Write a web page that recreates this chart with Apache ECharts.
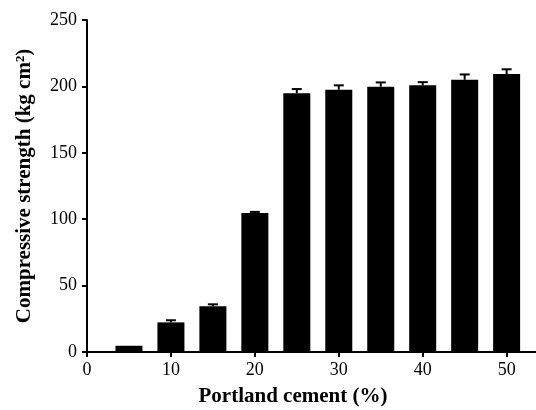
<!DOCTYPE html>
<html>
<head>
<meta charset="utf-8">
<script src="https://cdn.jsdelivr.net/npm/echarts@6/dist/echarts.min.js"></script>
<style>
  html, body { margin: 0; padding: 0; background: #fff; }
  #chart { width: 536px; height: 410px; }
</style>
</head>
<body>
<div id="chart"></div>
<script>
  // Portland cement content (%) and compressive strength (kg cm-2)
  const cement = [5, 10, 15, 20, 25, 30, 35, 40, 45, 50];
  const strength = [4.7, 22.3, 34.4, 104.7, 194.8, 197.5, 199.8, 200.8, 205, 209.3];
  const errors = [0, 1.6, 1.5, 0.8, 3.2, 3.3, 3.2, 2.4, 4, 3.6];

  const font = 'Liberation Serif, Times New Roman, serif';

  const barData = cement.map((c, i) => [c, strength[i]]);
  const errData = cement.map((c, i) => [c, strength[i], strength[i] + errors[i]]);

  const chart = echarts.init(document.getElementById('chart'), null, { renderer: 'canvas' });

  chart.setOption({
    animation: false,
    backgroundColor: '#fff',
    grid: { left: 87, top: 20, bottom: 58, right: 0, containLabel: false, outerBoundsMode: 'none' },
    xAxis: {
      type: 'value',
      min: 0,
      max: 53.5,
      interval: 10,
      name: 'Portland cement (%)',
      nameLocation: 'middle',
      nameGap: 34,
      nameTextStyle: { fontFamily: font, fontWeight: 'bold', fontSize: 21, color: '#000', padding: [0, 37, 0, 0] },
      axisLine: { lineStyle: { color: '#000', width: 2 } },
      axisTick: { length: 5, lineStyle: { color: '#000', width: 2 } },
      axisLabel: { fontFamily: font, fontSize: 18, color: '#000', margin: 9, showMaxLabel: false },
      splitLine: { show: false }
    },
    yAxis: {
      type: 'value',
      min: 0,
      max: 250,
      interval: 50,
      name: 'Compressive strength (kg cm²)',
      nameLocation: 'middle',
      nameGap: 52,
      nameTextStyle: { fontFamily: font, fontWeight: 'bold', fontSize: 21, color: '#000' },
      axisLine: { show: true, lineStyle: { color: '#000', width: 2 } },
      axisTick: { show: true, length: 5, lineStyle: { color: '#000', width: 2 } },
      axisLabel: { fontFamily: font, fontSize: 18, color: '#000', margin: 10 },
      splitLine: { show: false }
    },
    series: [
      {
        type: 'bar',
        data: barData,
        barWidth: 27,
        itemStyle: { color: '#000' }
      },
      {
        type: 'custom',
        data: errData,
        z: 3,
        renderItem: function (params, api) {
          if (api.value(2) <= api.value(1)) return null;
          const base = api.coord([api.value(0), api.value(1)]);
          const top = api.coord([api.value(0), api.value(2)]);
          const half = 5;
          const style = { stroke: '#000', lineWidth: 2 };
          return {
            type: 'group',
            children: [
              { type: 'line', shape: { x1: base[0], y1: base[1], x2: top[0], y2: top[1] }, style: style },
              { type: 'line', shape: { x1: top[0] - half, y1: top[1], x2: top[0] + half, y2: top[1] }, style: style }
            ]
          };
        }
      }
    ]
  });
</script>
</body>
</html>
